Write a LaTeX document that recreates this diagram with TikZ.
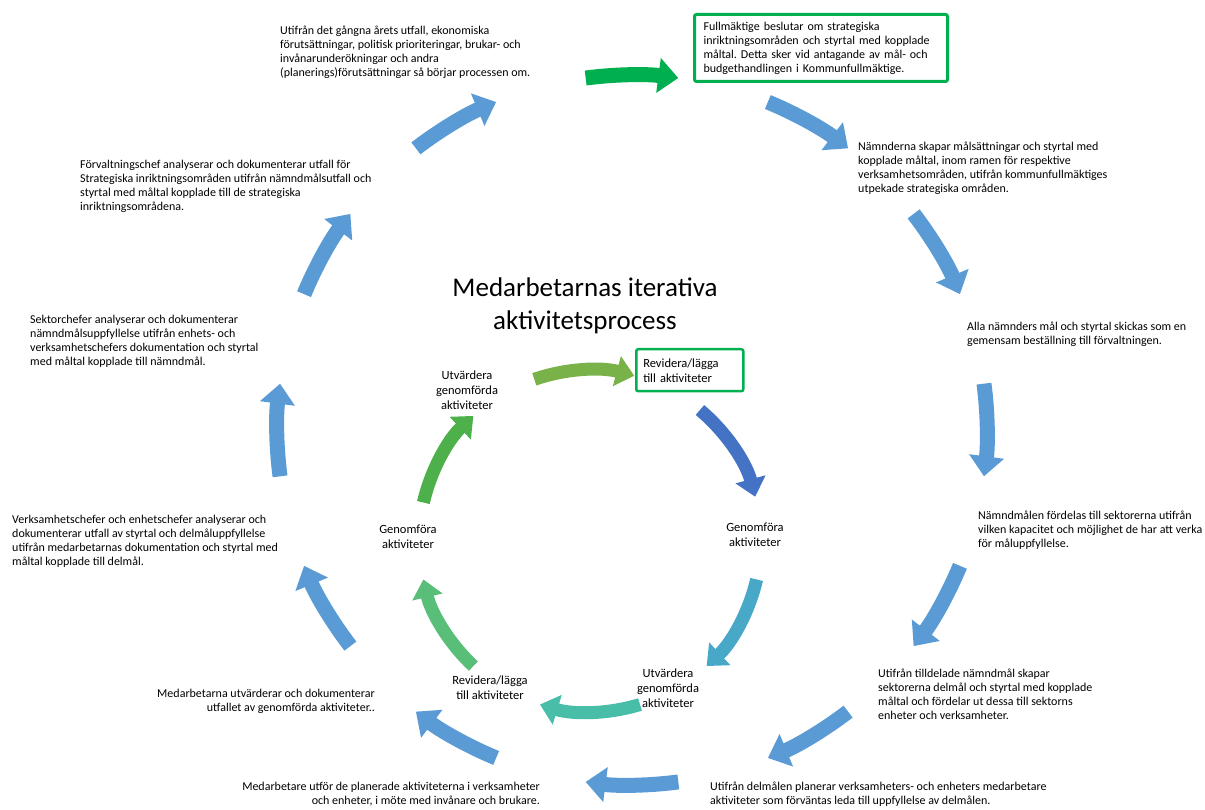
\documentclass[tikz,border=0pt]{standalone}
\usepackage{fontspec}
\setmainfont{Carlito}
\usepackage{xcolor}
\usetikzlibrary{arrows.meta, positioning}
\frenchspacing
\definecolor{cycleblue}{RGB}{91,155,213}
\definecolor{cyclegreen}{RGB}{0,176,80}
\definecolor{innergreenA}{RGB}{120,178,72}
\definecolor{innerblue}{RGB}{68,114,196}
\definecolor{innerteal}{RGB}{72,168,200}
\definecolor{innersea}{RGB}{72,190,168}
\definecolor{innergreenB}{RGB}{88,190,120}
\definecolor{innergreenC}{RGB}{78,176,74}
\tikzstyle{outerarrow} = [line width=15pt, draw=cycleblue, -{Triangle[width=34pt,length=20pt]}]
\tikzstyle{innerarrow} = [line width=13pt, -{Triangle[width=30pt,length=18pt]}]
\tikzstyle{steptext} = [font=\fontsize{12}{14}\selectfont, align=left, inner sep=0pt]
\tikzstyle{innerlabel} = [font=\fontsize{12.5}{15}\selectfont, align=center, inner sep=0pt]
\tikzstyle{highlight} = [draw=cyclegreen, rounded corners=2pt]

\begin{document}
\begin{tikzpicture}[x=1pt, y=1pt]
    \useasboundingbox (0,0) rectangle (1205,810);
    \coordinate (oc) at (632,380);
    \coordinate (ic) at (590,269);

    % Outer cycle
    \draw[outerarrow, draw=cyclegreen] (oc) ++(97.5:355) arc[start angle=97.5, end angle=82.5, radius=355];
    \foreach \a in {60,30,...,-240}
        \draw[outerarrow] (oc) ++(\a+7.5:355) arc[start angle=\a+7.5, end angle=\a-7.5, radius=355];

    % Inner cycle
    \draw[innerarrow, draw=innergreenA] (ic) ++(109:171) arc[start angle=109, end angle=75, radius=171];
    \draw[innerarrow, draw=innerblue] (ic) ++(50:171) arc[start angle=50, end angle=15, radius=171];
    \draw[innerarrow, draw=innerteal] (ic) ++(-13:171) arc[start angle=-13, end angle=-47, radius=171];
    \draw[innerarrow, draw=innersea] (ic) ++(-73:171) arc[start angle=-73, end angle=-107, radius=171];
    \draw[innerarrow, draw=innergreenB] (ic) ++(-133:171) arc[start angle=-133, end angle=-167, radius=171];
    \draw[innerarrow, draw=innergreenC] (ic) ++(167:171) arc[start angle=167, end angle=133, radius=171];

    % Title
    \node[font=\fontsize{27}{33}\selectfont, align=center] (title) at (585,504) {Medarbetarnas iterativa\\aktivitetsprocess};

    % Outer texts
    \node[steptext, anchor=north west] (utfall) at (280,784) {Utifrån det gångna årets utfall, ekonomiska\\förutsättningar, politisk prioriteringar, brukar- och\\invånarunderökningar och andra\\(planerings)förutsättningar så börjar processen om.};
    \node[steptext, highlight, line width=3pt, anchor=north west, minimum width=253pt, minimum height=67pt, inner xsep=9pt, text width=235pt] (fullmaktige) at (693,797) {Fullmäktige beslutar om strategiska\\inriktningsområden och styrtal med kopplade\\måltal. Detta sker vid antagande av mål- och\\budgethandlingen i Kommunfullmäktige.};
    \node[steptext, anchor=north west] (namnderna) at (858,668) {Nämnderna skapar målsättningar och styrtal med\\kopplade måltal, inom ramen för respektive\\verksamhetsområden, utifrån kommunfullmäktiges\\utpekade strategiska områden.};
    \node[steptext, anchor=north west] (bestallning) at (967,488) {Alla nämnders mål och styrtal skickas som en\\gemensam beställning till förvaltningen.};
    \node[steptext, anchor=north west] (fordelas) at (978,299) {Nämndmålen fördelas till sektorerna utifrån\\vilken kapacitet och möjlighet de har att verka\\för måluppfyllelse.};
    \node[steptext, anchor=north west] (delmal) at (878,141) {Utifrån tilldelade nämndmål skapar\\sektorerna delmål och styrtal med kopplade\\måltal och fördelar ut dessa till sektorns\\enheter och verksamheter.};
    \node[steptext, anchor=north west] (planerar) at (710,28) {Utifrån delmålen planerar verksamheters- och enheters medarbetare\\aktiviteter som förväntas leda till uppfyllelse av delmålen.};
    \node[steptext, align=right, anchor=north east] (utfor) at (540,28) {Medarbetare utför de planerade aktiviteterna i verksamheter\\och enheter, i möte med invånare och brukare.};
    \node[steptext, align=right, anchor=north east] (utvarderar) at (375,121) {Medarbetarna utvärderar och dokumenterar\\utfallet av genomförda aktiviteter..};
    \node[steptext, anchor=north west] (enhetschefer) at (12,295) {Verksamhetschefer och enhetschefer analyserar och\\dokumenterar utfall av styrtal och delmåluppfyllelse\\utifrån medarbetarnas dokumentation och styrtal med\\måltal kopplade till delmål.};
    \node[steptext, anchor=north west] (sektorchefer) at (30,495) {Sektorchefer analyserar och dokumenterar\\nämndmålsuppfyllelse utifrån enhets- och\\verksamhetschefers dokumentation och styrtal\\med måltal kopplade till nämndmål.};
    \node[steptext, anchor=north west] (forvaltningschef) at (80,650) {Förvaltningschef analyserar och dokumenterar utfall för\\Strategiska inriktningsområden utifrån nämndmålsutfall och\\styrtal med måltal kopplade till de strategiska\\inriktningsområdena.};

    % Inner texts
    \node[innerlabel, highlight, line width=2.5pt, align=left, anchor=north west, minimum width=107pt, minimum height=42pt, inner xsep=7pt, text width=93pt] (revidera1) at (635,462) {Revidera/lägga\\till aktiviteter};
    \node[innerlabel] (genomfora1) at (755,275) {Genomföra\\aktiviteter};
    \node[innerlabel] (utvardera1) at (668,122) {Utvärdera\\genomförda\\aktiviteter};
    \node[innerlabel] (revidera2) at (490,122) {Revidera/lägga\\till aktiviteter};
    \node[innerlabel] (genomfora2) at (408,273) {Genomföra\\aktiviteter};
    \node[innerlabel] (utvardera2) at (467,420) {Utvärdera\\genomförda\\aktiviteter};
\end{tikzpicture}
\end{document}
